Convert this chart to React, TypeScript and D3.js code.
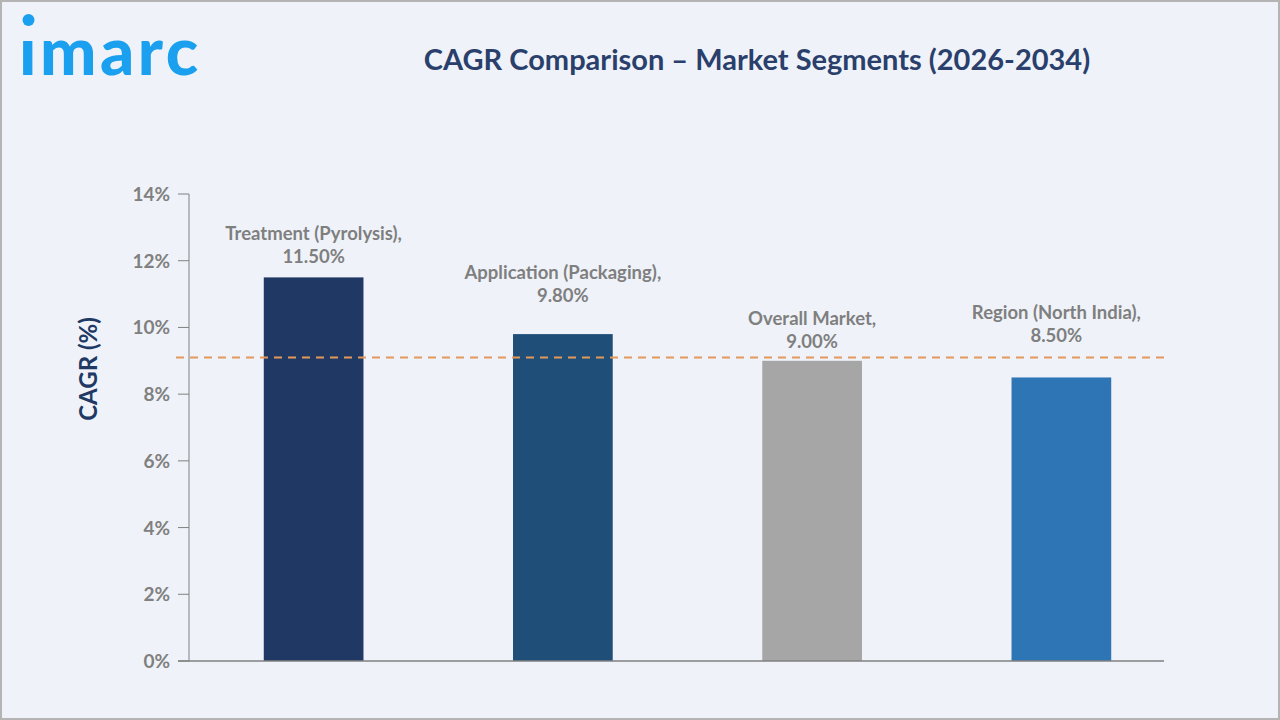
import React from "react";
import * as d3 from "d3";

const categories = ["Treatment (Pyrolysis)", "Application (Packaging)", "Overall Market", "Region (North India)"];
const values = [11.5, 9.8, 9.0, 8.5];
const barColors = ["#203864", "#1f4e79", "#a6a6a6", "#2e75b6"];
const yTicks = [0, 2, 4, 6, 8, 10, 12, 14];
const referenceValue = 9.1;
// gap (px) between bar top and the data label's last baseline
const labelGaps = [14, 32, 13, 35];
const labelShift = [0, 0, 0, -5];

const W = 1280;
const H = 720;
const FONT = "Lato, 'Open Sans', sans-serif";

export default function App() {
  const x = d3.scaleBand<string>().domain(categories).range([189, 1186]).paddingInner(0.6).paddingOuter(0.3);
  const y = d3.scaleLinear().domain([0, 14]).range([661, 194]);
  const axisEnd = 1164;

  return (
    <div style={{ position: "absolute", left: 0, top: 0 }}>
      <svg width={W} height={H} style={{ display: "block" }}>
        <rect x={0} y={0} width={W} height={H} fill="#eff3f9" />
        <rect x={1} y={1} width={W - 2} height={H - 2} fill="none" stroke="#b4b4b4" strokeWidth={2} />
        {/* logo */}
        <circle cx={28.5} cy={20} r={6} fill="#1aa0ee" />
        <text x={19} y={75} fontFamily="Lato, sans-serif" fontWeight={900} fontSize={67} fill="#1aa0ee" letterSpacing={3.5}>
          ımarc
        </text>
        {/* title */}
        <text x={757} y={70} textAnchor="middle" fontFamily={FONT} fontWeight={700} fontSize={29} fill="#2a3f6b">
          CAGR Comparison – Market Segments (2026-2034)
        </text>
        {/* y axis label */}
        <text
          transform={`translate(97,369) rotate(-90)`}
          textAnchor="middle"
          fontFamily={FONT}
          fontWeight={700}
          fontSize={24}
          fill="#203864"
        >
          CAGR (%)
        </text>
        {/* y ticks */}
        {yTicks.map((t) => (
          <g key={t}>
            <line x1={178} x2={189} y1={y(t)} y2={y(t)} stroke="#808080" strokeWidth={1} />
            <text x={170} y={y(t) + 7} textAnchor="end" fontFamily={FONT} fontWeight={700} fontSize={19} fill="#808080">
              {t}%
            </text>
          </g>
        ))}
        <line x1={189} x2={189} y1={194} y2={661} stroke="#808080" strokeWidth={1} />
        {/* bars */}
        {categories.map((c, i) => (
          <rect key={c} x={x(c)} y={y(values[i])} width={x.bandwidth()} height={y(0) - y(values[i])} fill={barColors[i]} />
        ))}
        <line x1={178} x2={axisEnd} y1={661} y2={661} stroke="#808080" strokeWidth={1.5} />
        {/* reference line */}
        <line
          x1={176}
          x2={axisEnd}
          y1={y(referenceValue)}
          y2={y(referenceValue)}
          stroke="#e3995a"
          strokeWidth={2}
          strokeDasharray="8,6"
        />
        {/* labels */}
        {categories.map((c, i) => {
          const cx = (x(c) as number) + x.bandwidth() / 2 + labelShift[i];
          const base = y(values[i]) - labelGaps[i];
          return (
            <text key={c} textAnchor="middle" fontFamily={FONT} fontWeight={700} fontSize={18.5} fill="#7f7f7f">
              <tspan x={cx} y={base - 23}>{c},</tspan>
              <tspan x={cx} y={base}>{values[i].toFixed(2)}%</tspan>
            </text>
          );
        })}
      </svg>
    </div>
  );
}
